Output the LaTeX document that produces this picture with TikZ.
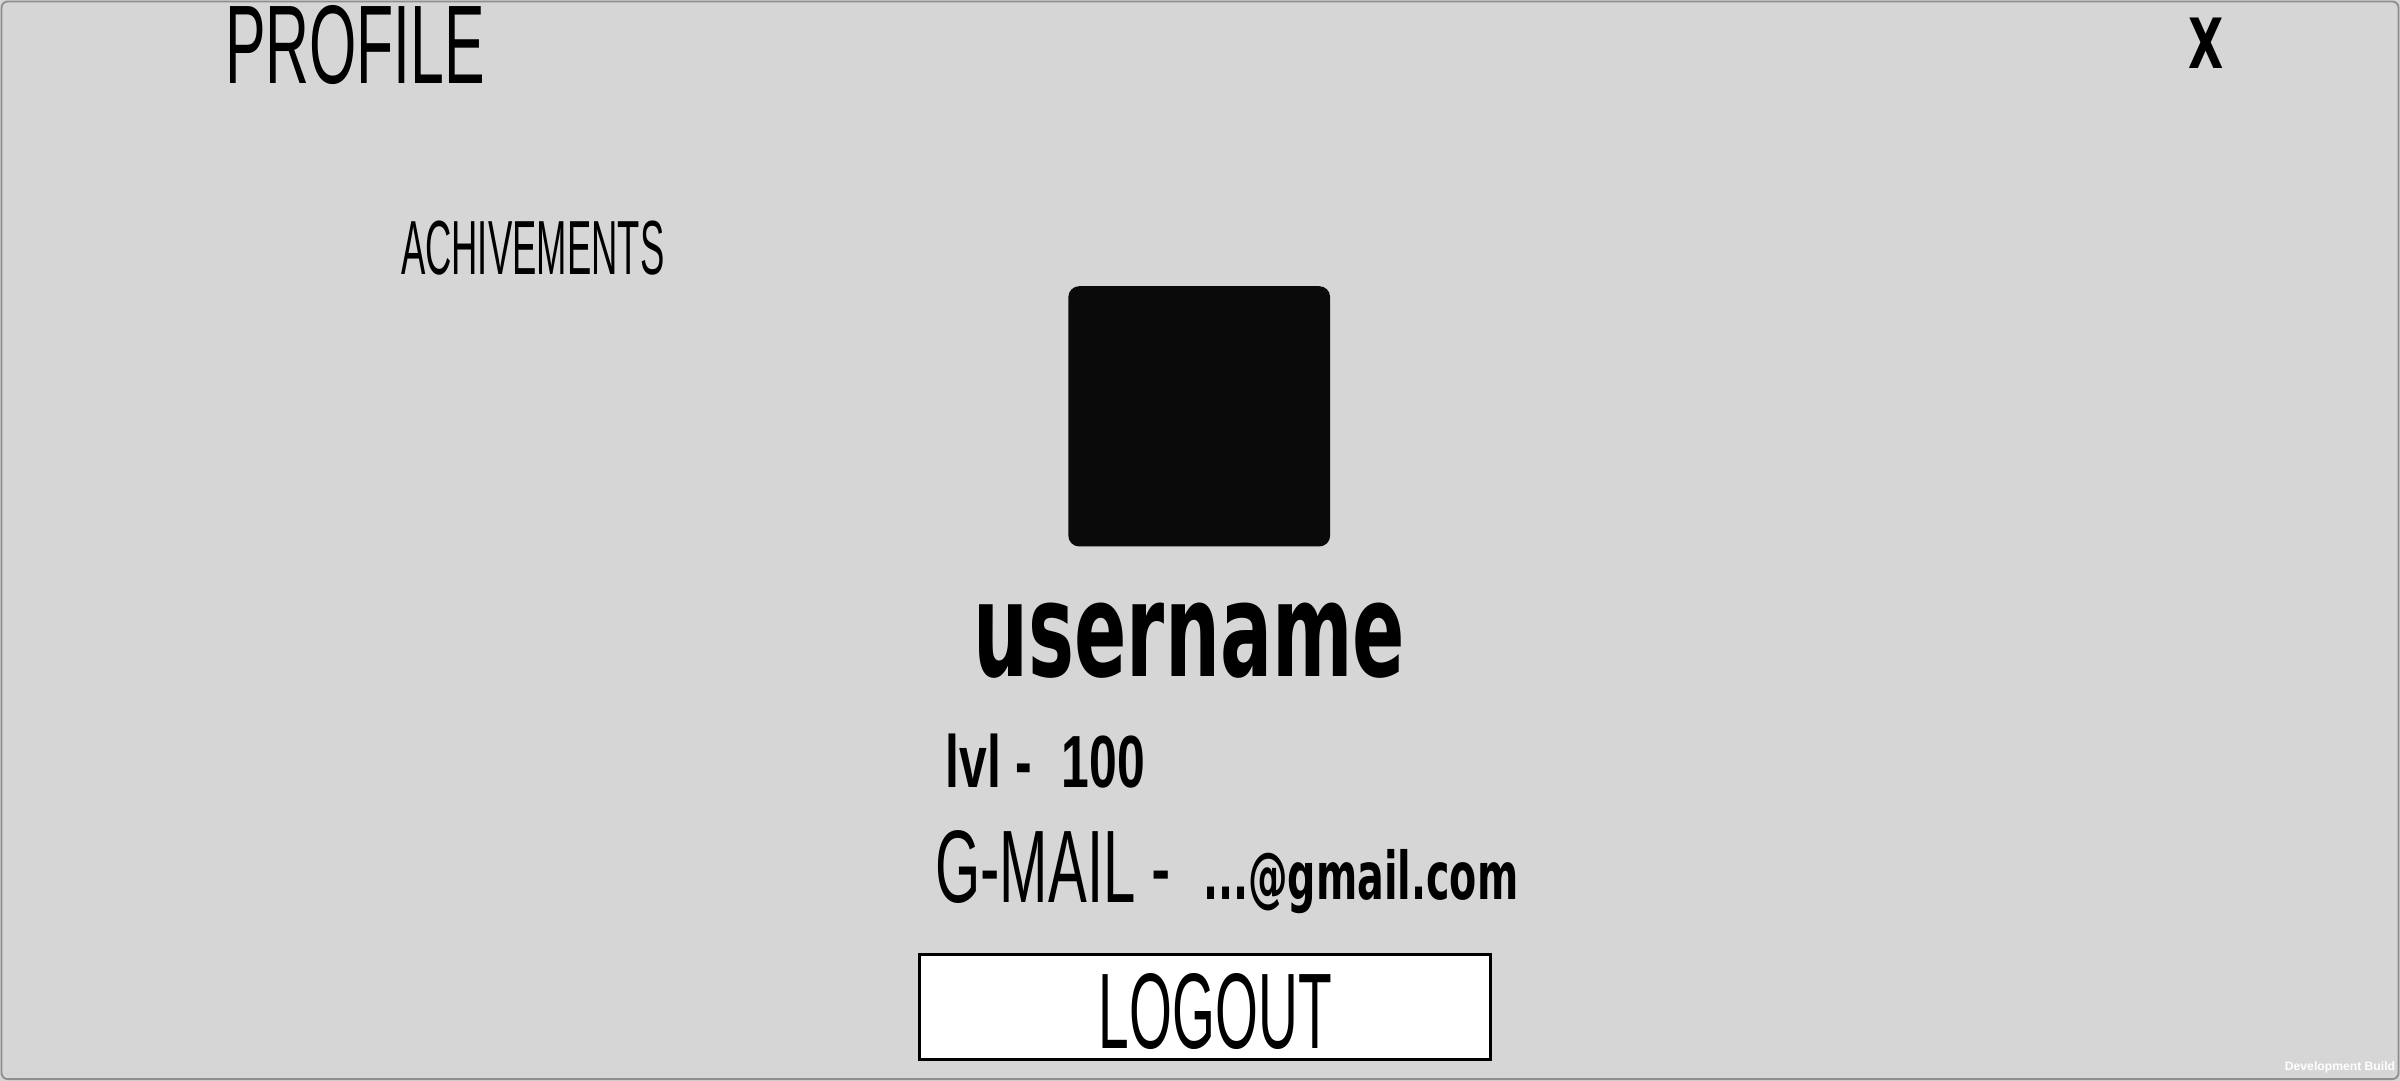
\documentclass[tikz,border=0pt]{standalone}
\usepackage{fontspec}
\usepackage{graphicx}
\setmainfont{Liberation Sans}
\newfontfamily\thinf{Liberation Sans}
\newfontfamily\heavyf{DejaVu Sans}
\definecolor{bgray}{HTML}{D6D6D6}
\definecolor{edgegray}{HTML}{8E8E8E}
\definecolor{avatarblack}{HTML}{0A0A0A}
\tikzset{
  txt/.style={inner sep=0pt, outer sep=0pt, anchor=south west, text=black},
}
\begin{document}
\begin{tikzpicture}[x=1pt,y=-1pt]
\useasboundingbox (0,0) rectangle (1568,706);
% background panel
\fill[bgray] (0,0) rectangle (1568,706);
\draw[edgegray, line width=1.2pt, rounded corners=4pt] (1,1) rectangle (1567,705);
% title
\node[txt] (profile) at (147,55) {\resizebox{170pt}{51pt}{\thinf PROFILE}};
\node[txt] (achiv) at (262,180) {\resizebox{172pt}{35pt}{\thinf ACHIVEMENTS}};
\node[txt] (close) at (1430,45) {\resizebox{23pt}{33pt}{\heavyf\bfseries X}};
% avatar
\node[fill=avatarblack, rounded corners=7pt, minimum width=171pt, minimum height=170pt, inner sep=0pt] (avatar) at (783.5,272) {};
% username
\node[txt] (user) at (636,443) {\resizebox{282pt}{48pt}{\heavyf\bfseries username}};
% level
\node[txt] (lvl) at (618,515) {\resizebox{130pt}{35pt}{\thinf\bfseries lvl -\hspace{0.6em}100}};
% gmail
\node[txt] (gmlabel) at (611,590) {\resizebox{154pt}{47pt}{\thinf G-MAIL -}};
\node[txt] (gmvalue) at (786,597) {\resizebox*{206pt}{42pt}{\heavyf\bfseries ...@gmail.com}};
% logout button
\node[draw=black, line width=2pt, fill=white, minimum width=373pt, minimum height=69pt, inner sep=0pt] (logoutbtn) at (787,658) {};
\node[txt] (logout) at (718,686) {\resizebox{152pt}{49pt}{\thinf LOGOUT}};
% development build
\node[inner sep=0pt, anchor=south east, text=white] (devbuild) at (1565,701) {\resizebox{72pt}{!}{\thinf\bfseries Development Build}};
\end{tikzpicture}
\end{document}
